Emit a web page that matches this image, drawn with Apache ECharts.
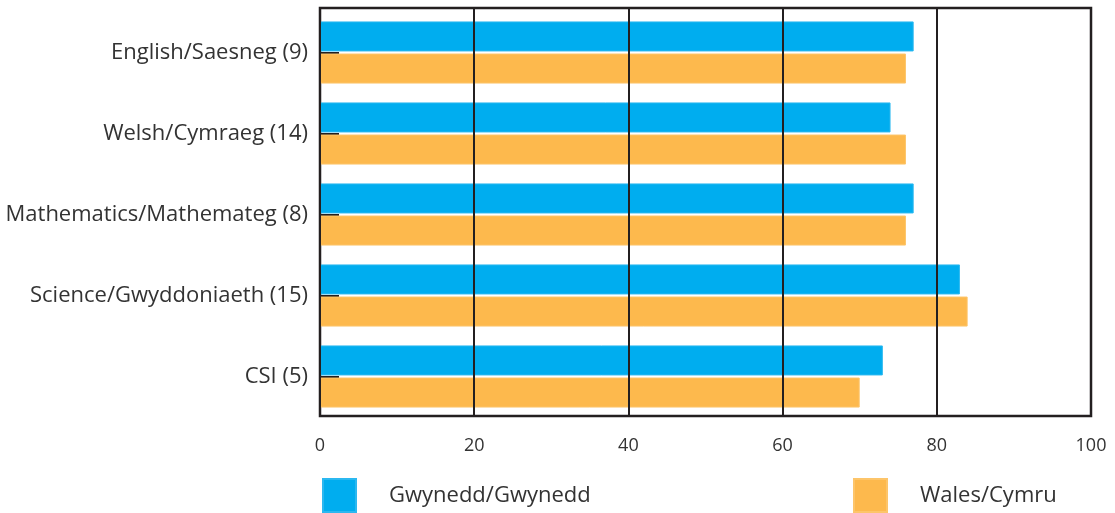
<!DOCTYPE html>
<html>
<head>
<meta charset="utf-8">
<script src="https://cdn.jsdelivr.net/npm/echarts@6/dist/echarts.min.js"></script>
<style>
  html, body { margin: 0; padding: 0; background: #fff; }
  #main { width: 1115px; height: 513px; }
</style>
</head>
<body>
<div id="main"></div>
<script>
const subjects = [
  'English/Saesneg (9)',
  'Welsh/Cymraeg (14)',
  'Mathematics/Mathemateg (8)',
  'Science/Gwyddoniaeth (15)',
  'CSI (5)'
];
const gwyneddValues = [77, 74, 77, 83, 73];
const walesValues = [76, 76, 76, 84, 70];
const seriesNames = ['Gwynedd/Gwynedd', 'Wales/Cymru'];
const xTicks = [0, 20, 40, 60, 80, 100];

const ink = '#231f20';
const font = 'Open Sans';

const chart = echarts.init(document.getElementById('main'));

const legendBase = {
  orient: 'horizontal',
  top: 478,
  padding: 0,
  itemWidth: 33,
  itemHeight: 33,
  icon: 'rect',
  textStyle: {
    fontFamily: font,
    fontSize: 22,
    color: '#333',
    padding: [4, 0, 0, 28]
  }
};

chart.setOption({
  animation: false,
  backgroundColor: '#fff',
  grid: [
    // frame + gridlines
    {
      left: 320, right: 24, top: 8, bottom: 97,
      show: true,
      borderColor: ink,
      borderWidth: 2.5,
      backgroundColor: 'transparent'
    },
    // bars
    { left: 320, right: 24, top: 12, bottom: 96 }
  ],
  legend: [
    Object.assign({}, legendBase, { left: 322, data: [seriesNames[0]] }),
    Object.assign({}, legendBase, { left: 853, data: [seriesNames[1]] })
  ],
  xAxis: [
    {
      gridIndex: 0,
      type: 'value',
      min: xTicks[0],
      max: xTicks[xTicks.length - 1],
      interval: 20,
      axisLine: { show: false },
      axisTick: { show: false },
      axisLabel: { show: false },
      splitLine: { show: true, lineStyle: { color: ink, width: 2 } },
      z: 3
    },
    {
      gridIndex: 1,
      type: 'value',
      min: xTicks[0],
      max: xTicks[xTicks.length - 1],
      interval: 20,
      axisLine: { show: false },
      axisTick: { show: false },
      splitLine: { show: false },
      axisLabel: {
        margin: 20,
        fontFamily: font,
        fontSize: 18,
        color: '#333'
      }
    }
  ],
  yAxis: [
    {
      gridIndex: 0,
      type: 'value',
      show: false
    },
    {
      gridIndex: 1,
      type: 'category',
      data: subjects,
      inverse: true,
      axisLine: { show: false },
      axisTick: {
        show: true,
        inside: true,
        alignWithLabel: true,
        length: 19,
        lineStyle: { color: ink, width: 2 }
      },
      axisLabel: {
        margin: 12,
        fontFamily: font,
        fontSize: 22,
        color: '#333'
      }
    }
  ],
  series: [
    {
      name: seriesNames[0],
      type: 'bar',
      xAxisIndex: 1,
      yAxisIndex: 1,
      data: gwyneddValues,
      barWidth: 30,
      barGap: '7%',
      itemStyle: { color: '#00adef', borderColor: '#2bb8f0', borderWidth: 1 }
    },
    {
      name: seriesNames[1],
      type: 'bar',
      xAxisIndex: 1,
      yAxisIndex: 1,
      data: walesValues,
      barWidth: 30,
      barGap: '7%',
      itemStyle: { color: '#fdb94d', borderColor: '#fdc56a', borderWidth: 1 }
    }
  ]
});
</script>
</body>
</html>
